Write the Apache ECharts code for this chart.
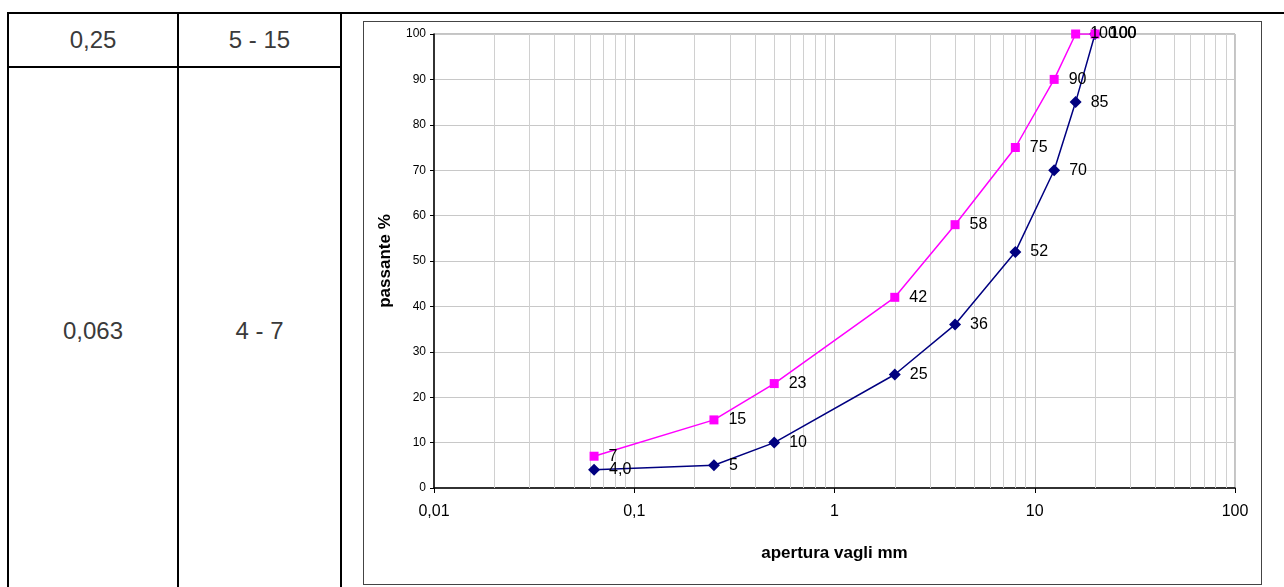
<!DOCTYPE html>
<html>
<head>
<meta charset="utf-8">
<script src="https://cdn.jsdelivr.net/npm/echarts@6/dist/echarts.min.js"></script>
<style>
  html, body { margin:0; padding:0; background:#fff; }
  #wrap { position:relative; width:1284px; height:587px; overflow:hidden; font-family:"Liberation Sans", Arial, sans-serif; }
  .ln { position:absolute; background:#000; }
  .cell { position:absolute; text-align:center; font-size:24px; color:#3a3a3a; }
  #frame { position:absolute; left:363px; top:21px; width:897px; height:562px; border:1px solid #444; }
  #chart { position:absolute; left:0; top:0; width:1284px; height:587px; }
</style>
</head>
<body>
<div id="wrap">
  <div class="ln" style="left:8px; top:12px; width:1276px; height:2px;"></div>
  <div class="ln" style="left:8px; top:66px; width:334px; height:2px;"></div>
  <div class="ln" style="left:7px; top:12px; width:2px; height:575px;"></div>
  <div class="ln" style="left:177px; top:12px; width:2px; height:575px;"></div>
  <div class="ln" style="left:340px; top:12px; width:2px; height:575px;"></div>
  <div class="cell" style="left:9px; width:168px; top:26px;">0,25</div>
  <div class="cell" style="left:179px; width:161px; top:26px;">5 - 15</div>
  <div class="cell" style="left:9px; width:168px; top:317px;">0,063</div>
  <div class="cell" style="left:179px; width:161px; top:317px;">4 - 7</div>
  <div id="frame"></div>
  <div id="chart"></div>
</div>
<script>
// sieve openings (mm)
var sieves = [0.063, 0.25, 0.5, 2, 4, 8, 12.5, 16, 20];
// upper limit curve (magenta)
var upperPass = [7, 15, 23, 42, 58, 75, 90, 100, 100];
var upperLabels = ['7', '15', '23', '42', '58', '75', '90', '100', '100'];
// lower limit curve (navy)
var lowerPass = [4.0, 5, 10, 25, 36, 52, 70, 85, 100];
var lowerLabels = ['4,0', '5', '10', '25', '36', '52', '70', '85', '100'];
// axis tick labels
var xTickValues = [0.01, 0.1, 1, 10, 100];
var xTickLabels = ['0,01', '0,1', '1', '10', '100'];
var yTicks = [0, 10, 20, 30, 40, 50, 60, 70, 80, 90, 100];

var FONT = '"Liberation Sans", Arial, sans-serif';

// minor log gridlines (2..9 in each decade)
var minorLines = [];
[0.01, 0.1, 1, 10].forEach(function (d) {
  for (var k = 2; k <= 9; k++) minorLines.push({ xAxis: +(d * k).toPrecision(3) });
});

function pairs(xs, ys) { return xs.map(function (x, i) { return [x, ys[i]]; }); }

var chart = echarts.init(document.getElementById('chart'), null, { renderer: 'canvas' });
chart.setOption({
  animation: false,
  backgroundColor: 'transparent',
  grid: { left: 434, right: 49, top: 34, bottom: 99, show: true, borderColor: '#888', borderWidth: 1, containLabel: false },
  xAxis: {
    type: 'log', logBase: 10, min: 0.01, max: 100,
    name: 'apertura vagli mm', nameLocation: 'middle', nameGap: 57,
    nameTextStyle: { fontFamily: FONT, fontWeight: 'bold', fontSize: 17, color: '#000' },
    axisLine: { show: true, lineStyle: { color: '#000', width: 1.5 } },
    axisTick: { show: true, length: 5, lineStyle: { color: '#000' } },
    axisLabel: {
      fontFamily: FONT, fontSize: 16, color: '#000', margin: 16,
      formatter: function (v) {
        var i = Math.round(Math.log10(v)) + 2;
        return xTickLabels[i] !== undefined ? xTickLabels[i] : '';
      }
    },
    splitLine: { show: true, lineStyle: { color: '#c8c8c8', width: 1 } }
  },
  yAxis: {
    type: 'value', min: 0, max: 100, interval: 10,
    name: 'passante %', nameLocation: 'middle', nameGap: 40, nameRotate: 90,
    nameTextStyle: { fontFamily: FONT, fontWeight: 'bold', fontSize: 17, color: '#000' },
    axisLine: { show: true, lineStyle: { color: '#000', width: 1.5 } },
    axisTick: { show: true, length: 4, lineStyle: { color: '#000' } },
    axisLabel: { fontFamily: FONT, fontSize: 12, color: '#000', margin: 8 },
    splitLine: { show: true, lineStyle: { color: '#c8c8c8', width: 1 } }
  },
  series: [
    {
      type: 'line', name: 'inferiore',
      data: pairs(sieves, lowerPass),
      symbol: 'diamond', symbolSize: 12,
      lineStyle: { color: '#000080', width: 1.5 },
      itemStyle: { color: '#000080' },
      label: {
        show: true, position: 'right', distance: 9,
        fontFamily: FONT, fontSize: 16, color: '#000',
        formatter: function (p) { return lowerLabels[p.dataIndex]; }
      },
      markLine: {
        silent: true, symbol: 'none', animation: false, z: 1,
        label: { show: false },
        lineStyle: { color: '#d0d0d0', width: 1, type: 'solid' },
        data: minorLines
      },
      z: 3
    },
    {
      type: 'line', name: 'superiore',
      data: pairs(sieves, upperPass),
      symbol: 'rect', symbolSize: 9,
      lineStyle: { color: '#ff00ff', width: 1.5 },
      itemStyle: { color: '#ff00ff' },
      label: {
        show: true, position: 'right', distance: 10,
        fontFamily: FONT, fontSize: 16, color: '#000',
        formatter: function (p) { return upperLabels[p.dataIndex]; }
      },
      z: 4
    }
  ]
});
</script>
</body>
</html>
